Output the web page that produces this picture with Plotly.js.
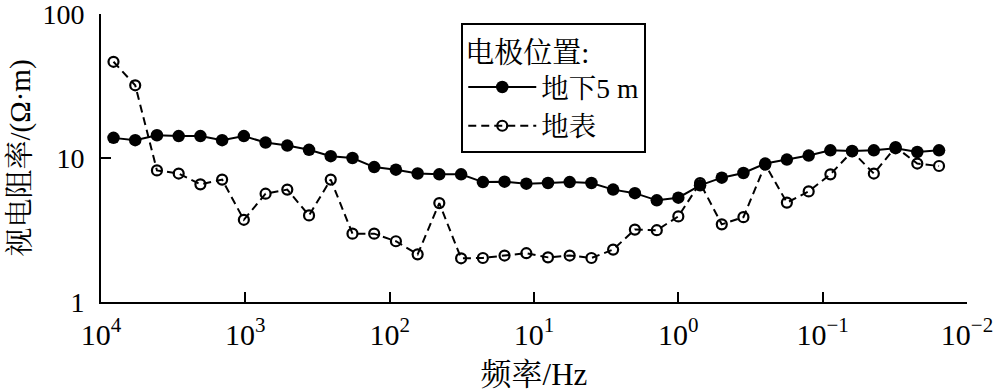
<!DOCTYPE html>
<html>
<head>
<meta charset="utf-8">
<script src="https://cdn.plot.ly/plotly-3.0.1.min.js"></script>
<style>html,body{margin:0;padding:0;background:#fff;}#chart{width:1000px;height:392px;}</style>
</head>
<body>
<div id="chart"></div>
<script>
// Frequencies (Hz)
const frequency = [8192, 5793, 4096, 2896, 2048, 1448, 1024, 724, 512, 362, 256, 181, 128, 90.5, 64, 45.3, 32, 22.6, 16, 11.3, 8, 5.66, 4, 2.83, 2, 1.41, 1, 0.707, 0.5, 0.354, 0.25, 0.177, 0.125, 0.0884, 0.0625, 0.0442, 0.03125, 0.0221, 0.015625];
// Apparent resistivity (Ω·m)
const underground5m = [13.8, 13.3, 14.4, 14.2, 14.2, 13.3, 14.2, 12.8, 12.2, 11.4, 10.3, 10.0, 8.65, 8.3, 7.8, 7.7, 7.7, 6.8, 6.85, 6.63, 6.7, 6.8, 6.7, 6.03, 5.7, 5.08, 5.3, 6.46, 7.3, 7.87, 9.15, 9.75, 10.4, 11.3, 11.2, 11.3, 11.7, 11.0, 11.3];
const surface = [46.6, 32, 8.2, 7.8, 6.56, 7.08, 3.72, 5.65, 6.03, 3.99, 7.08, 2.98, 2.98, 2.64, 2.14, 4.86, 2.01, 2.02, 2.1, 2.18, 2.04, 2.1, 2.02, 2.31, 3.18, 3.15, 3.93, 6.7, 3.46, 3.88, 9.0, 4.9, 5.86, 7.7, 11.1, 7.8, 11.9, 9.15, 8.8];
const seriesNames = ["地下5 m", "地表"];
const legendTitle = "电极位置:";
const xTickVals = [1e4, 1e3, 1e2, 1e1, 1, 0.1, 0.01];
const xTickText = ["10<sup>4</sup>", "10<sup>3</sup>", "10<sup>2</sup>", "10<sup>1</sup>", "10<sup>0</sup>", "10<sup>−1</sup>", "10<sup>−2</sup>"];
const yTickVals = [1, 10, 100];
const yTickText = ["1", "10", "100"];
const xTitle = "频率/Hz";
const yTitle = "视电阻率/(Ω·m)";

const FONT = "'Liberation Serif', 'Noto Serif CJK SC', 'Noto Sans CJK SC', serif";

const traces = [
  {
    x: frequency, y: underground5m, name: seriesNames[0], type: "scatter", mode: "lines+markers",
    line: {color: "#000", width: 2},
    marker: {symbol: "circle", size: 12.5, color: "#000"}
  },
  {
    x: frequency, y: surface, name: seriesNames[1], type: "scatter", mode: "lines+markers",
    line: {color: "#000", width: 2, dash: "8px,5px"},
    marker: {symbol: "circle-open", size: 10, color: "#000", line: {width: 2.2, color: "#000"}}
  }
];

const layout = {
  width: 1000, height: 392,
  margin: {l: 101, r: 33, t: 14, b: 90},
  paper_bgcolor: "#fff", plot_bgcolor: "#fff",
  font: {family: FONT, size: 30, color: "#000"},
  showlegend: true,
  legend: {
    x: 0.416, y: 0.969, xanchor: "left", yanchor: "top",
    bordercolor: "#000", borderwidth: 2, bgcolor: "#fff",
    font: {family: FONT, size: 27.5, color: "#000"},
    title: {text: legendTitle, font: {family: FONT, size: 29, color: "#000"}},
    itemwidth: 68,
    tracegroupgap: 0
  },
  xaxis: {
    type: "log", range: [4, -2],
    tickmode: "array", tickvals: xTickVals, ticktext: xTickText,
    ticks: "inside", ticklen: 10, tickwidth: 2, tickcolor: "#000",
    showline: true, linecolor: "#000", linewidth: 2, mirror: false,
    showgrid: false, zeroline: false,
    ticklabeloverflow: "allow", ticklabelstandoff: 5,
    tickfont: {family: FONT, size: 30, color: "#000"},
    title: {text: xTitle, font: {family: FONT, size: 31, color: "#000"}, standoff: 14}
  },
  yaxis: {
    type: "log", range: [-0.0005, 2.0005],
    tickmode: "array", tickvals: yTickVals, ticktext: yTickText,
    ticks: "inside", ticklen: 10, tickwidth: 2, tickcolor: "#000",
    showline: true, linecolor: "#000", linewidth: 2, mirror: false,
    showgrid: false, zeroline: false,
    ticklabeloverflow: "allow", ticklabelstandoff: 9,
    tickfont: {family: FONT, size: 28, color: "#000"},
    title: {text: yTitle, font: {family: FONT, size: 29, color: "#000"}, standoff: 3}
  }
};

Plotly.newPlot("chart", traces, layout, {displayModeBar: false, staticPlot: true});
</script>
</body>
</html>
